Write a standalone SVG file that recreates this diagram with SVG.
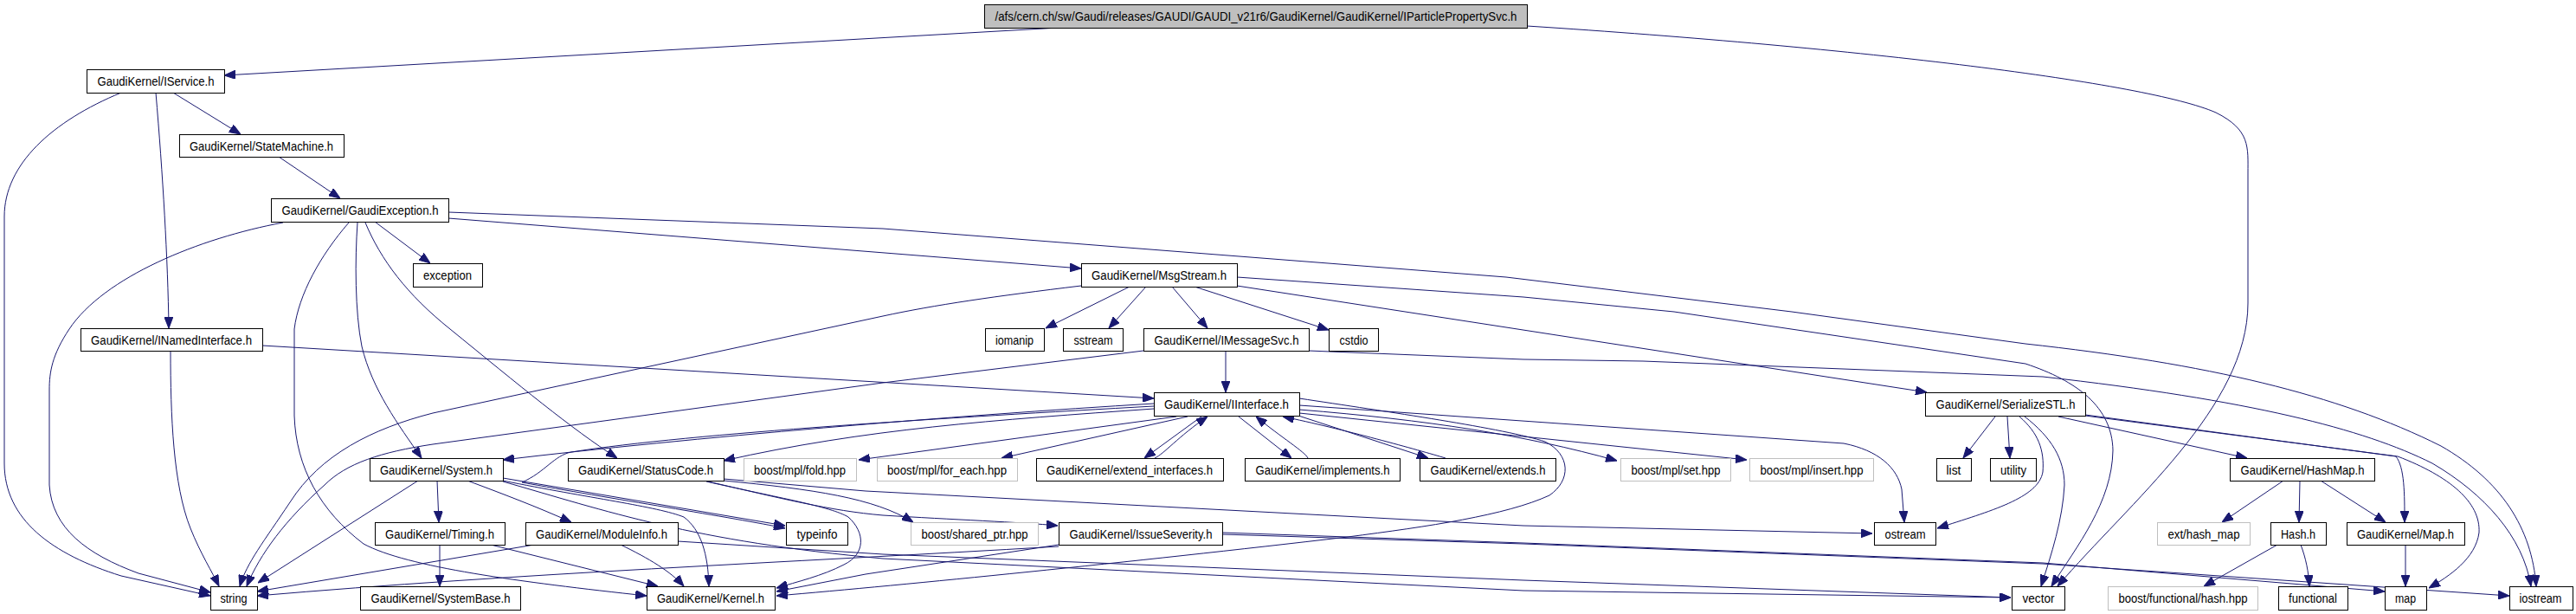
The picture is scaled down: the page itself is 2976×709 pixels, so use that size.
<svg xmlns="http://www.w3.org/2000/svg" width="2976" height="709" viewBox="0 0 2976 709">
<style>
.n rect{fill:#fff;stroke:#000;stroke-width:1}
.g rect{fill:#fff;stroke:#bfbfbf;stroke-width:1}
.r rect{fill:#bfbfbf;stroke:#000;stroke-width:1}
text{font-family:"Liberation Sans",Arial,sans-serif;font-size:14px;fill:#000;text-anchor:middle}
.e path{fill:none;stroke:#191970;stroke-width:1;marker-end:url(#arr)}
</style>
<defs>
<marker id="arr" markerUnits="userSpaceOnUse" markerWidth="13" markerHeight="10" refX="13" refY="5" orient="auto" viewBox="0 0 13 10">
<path d="M0,0 L13,5 L0,10 z" fill="#191970" stroke="#191970" stroke-width="1"/>
</marker>
</defs>
<rect width="2976" height="709" fill="#fff"/>
<g class="e" id="edges">
<path d="M1223,32 L259,87"/>
<path d="M1764,30 C2150,55 2480,95 2560,130 C2600,150 2597,170 2597,200 L2597,350 C2597,470 2460,580 2377,677"/>
<path d="M200,107 L278,155"/>
<path d="M180,107 C188,200 194,300 195,379"/>
<path d="M140,107 C60,140 5,190 5,250 L5,535 C5,600 60,640 140,665 L243,688"/>
<path d="M322,181 L393,229"/>
<path d="M433,256 L497,304"/>
<path d="M327,257 C230,275 120,320 80,380 C60,410 57,430 57,450 L57,560 C60,610 100,640 160,662 L243,684"/>
<path d="M403,257 C370,295 345,340 340,380 L340,480 C342,540 370,590 420,628 C470,655 600,672 747,688"/>
<path d="M413,257 C410,300 410,360 418,400 C430,450 460,490 487,529"/>
<path d="M422,257 C440,300 470,340 520,380 C600,445 660,495 713,529"/>
<path d="M518,252 L1249,310"/>
<path d="M518,245 L1020,264 L1740,320 L2070,360 L2340,397 C2550,420 2700,455 2820,515 C2890,555 2925,610 2930,677"/>
<path d="M1305,331 L1208,379"/>
<path d="M1324,331 L1281,379"/>
<path d="M1354,331 L1395,379"/>
<path d="M1380,331 L1535,381"/>
<path d="M1249,330 C1150,342 1080,352 1020,365 L500,477 C430,495 370,525 335,580 C305,625 285,650 277,677"/>
<path d="M1429,320 L1760,343 L1934,360 L2340,420 C2400,440 2440,470 2441,520 C2440,580 2400,630 2370,677"/>
<path d="M1429,330 L2226,453"/>
<path d="M1416,405 L1416,453"/>
<path d="M1321,405 L1020,442 L500,513 C440,522 400,535 375,560 C330,600 300,640 285,677"/>
<path d="M1512,405 L1760,415 L1898,417 L2360,435 C2600,462 2730,495 2810,535 C2870,570 2915,620 2924,677"/>
<path d="M197,405 C197,480 200,560 220,610 C232,640 245,660 253,677"/>
<path d="M303,399 L1333,460"/>
<path d="M1333,466 C1100,480 800,505 581,531"/>
<path d="M1333,472 C1150,485 1000,495 836,532"/>
<path d="M1333,469 C1100,482 800,500 660,522 C640,526 630,545 603,557 C700,575 850,598 907,610"/>
<path d="M1359,481 L992,531"/>
<path d="M1372,481 L1157,529"/>
<path d="M1388,481 L1322,529"/>
<path d="M1334,529 C1345,524 1360,505 1395,481"/>
<path d="M1431,481 L1492,529"/>
<path d="M1511,529 C1508,522 1480,505 1451,481"/>
<path d="M1497,479 L1650,529"/>
<path d="M1670,529 C1640,520 1550,495 1482,481"/>
<path d="M1501,473 C1650,485 1760,502 1868,532"/>
<path d="M1501,477 L2018,531"/>
<path d="M1501,468 L2130,512 C2170,520 2192,540 2197,565 L2200,603"/>
<path d="M1501,460 C1600,475 1740,495 1785,510 C1815,525 1815,555 1790,572 C1740,595 1650,608 1557,620 C1300,650 1050,675 897,688"/>
<path d="M836,553 L1000,567 L1760,607 L2163,616"/>
<path d="M836,555 C940,565 1010,575 1055,603"/>
<path d="M818,556 C900,575 960,590 1020,595 C1100,600 1180,603 1222,607"/>
<path d="M816,556 C900,575 960,585 980,597 C1000,615 1000,640 975,652 C950,665 920,672 897,679"/>
<path d="M505,555 L507,603"/>
<path d="M540,555 C580,570 620,585 660,603"/>
<path d="M483,555 L298,673"/>
<path d="M581,552 L907,607"/>
<path d="M581,555 C680,575 760,585 790,597 C810,612 818,640 819,677"/>
<path d="M581,556 C700,590 800,625 1020,645 L1760,682 L2323,690"/>
<path d="M508,629 L508,677"/>
<path d="M567,629 L760,677"/>
<path d="M717,629 C750,645 775,660 790,677"/>
<path d="M617,629 L297,683"/>
<path d="M783,625 L1020,640 L1760,670 L2323,690"/>
<path d="M1223,629 L1000,663 L897,683"/>
<path d="M1223,631 C900,650 600,662 297,688"/>
<path d="M1412,615 L1760,627 L2360,650 L2755,683"/>
<path d="M1412,617 L1760,628 L2360,651 L2899,688"/>
<path d="M2305,481 L2268,529"/>
<path d="M2319,481 L2322,529"/>
<path d="M2333,481 C2355,500 2362,520 2360,545 C2355,575 2300,590 2238,610"/>
<path d="M2339,481 C2370,505 2385,530 2385,560 C2383,600 2370,640 2358,677"/>
<path d="M2378,481 L2596,529"/>
<path d="M2409,479 L2768,527 C2778,540 2778,570 2778,603"/>
<path d="M2409,480 L2770,527 C2830,550 2866,580 2864,615 C2860,645 2830,665 2806,679"/>
<path d="M2638,555 L2567,603"/>
<path d="M2657,555 L2656,603"/>
<path d="M2681,555 L2756,603"/>
<path d="M2631,629 L2546,677"/>
<path d="M2658,629 C2664,645 2667,660 2668,677"/>
<path d="M2779,629 L2779,677"/>
</g>
<g class="r" id="root"><rect x="1137.5" y="5.5" width="627" height="27"/><text x="1451" y="24" textLength="603" lengthAdjust="spacingAndGlyphs">/afs/cern.ch/sw/Gaudi/releases/GAUDI/GAUDI_v21r6/GaudiKernel/GaudiKernel/IParticlePropertySvc.h</text></g>
<g class="n" id="IService"><rect x="100.5" y="80.5" width="159" height="27"/><text x="180" y="99" textLength="135" lengthAdjust="spacingAndGlyphs">GaudiKernel/IService.h</text></g>
<g class="n" id="StateMachine"><rect x="207.5" y="155.5" width="190" height="26"/><text x="302" y="174" textLength="166" lengthAdjust="spacingAndGlyphs">GaudiKernel/StateMachine.h</text></g>
<g class="n" id="GaudiException"><rect x="313.5" y="229.5" width="205" height="27"/><text x="416" y="248" textLength="181" lengthAdjust="spacingAndGlyphs">GaudiKernel/GaudiException.h</text></g>
<g class="n" id="exception"><rect x="477.5" y="304.5" width="80" height="27"/><text x="517" y="323" textLength="56" lengthAdjust="spacingAndGlyphs">exception</text></g>
<g class="n" id="MsgStream"><rect x="1249.5" y="304.5" width="180" height="27"/><text x="1339" y="323" textLength="156" lengthAdjust="spacingAndGlyphs">GaudiKernel/MsgStream.h</text></g>
<g class="n" id="INamedInterface"><rect x="93.5" y="379.5" width="210" height="26"/><text x="198" y="398" textLength="186" lengthAdjust="spacingAndGlyphs">GaudiKernel/INamedInterface.h</text></g>
<g class="n" id="iomanip"><rect x="1138.5" y="379.5" width="68" height="26"/><text x="1172" y="398" textLength="44" lengthAdjust="spacingAndGlyphs">iomanip</text></g>
<g class="n" id="sstream"><rect x="1228.5" y="379.5" width="69" height="26"/><text x="1263" y="398" textLength="45" lengthAdjust="spacingAndGlyphs">sstream</text></g>
<g class="n" id="IMessageSvc"><rect x="1321.5" y="379.5" width="191" height="26"/><text x="1417" y="398" textLength="167" lengthAdjust="spacingAndGlyphs">GaudiKernel/IMessageSvc.h</text></g>
<g class="n" id="cstdio"><rect x="1535.5" y="379.5" width="57" height="26"/><text x="1564" y="398" textLength="33" lengthAdjust="spacingAndGlyphs">cstdio</text></g>
<g class="n" id="IInterface"><rect x="1333.5" y="453.5" width="168" height="27"/><text x="1417" y="472" textLength="144" lengthAdjust="spacingAndGlyphs">GaudiKernel/IInterface.h</text></g>
<g class="n" id="SerializeSTL"><rect x="2224.5" y="453.5" width="185" height="27"/><text x="2317" y="472" textLength="161" lengthAdjust="spacingAndGlyphs">GaudiKernel/SerializeSTL.h</text></g>
<g class="n" id="System"><rect x="427.5" y="529.5" width="154" height="26"/><text x="504" y="548" textLength="130" lengthAdjust="spacingAndGlyphs">GaudiKernel/System.h</text></g>
<g class="n" id="StatusCode"><rect x="656.5" y="529.5" width="180" height="26"/><text x="746" y="548" textLength="156" lengthAdjust="spacingAndGlyphs">GaudiKernel/StatusCode.h</text></g>
<g class="g" id="fold"><rect x="859.5" y="529.5" width="130" height="26"/><text x="924" y="548" textLength="106" lengthAdjust="spacingAndGlyphs">boost/mpl/fold.hpp</text></g>
<g class="g" id="for_each"><rect x="1013.5" y="529.5" width="162" height="26"/><text x="1094" y="548" textLength="138" lengthAdjust="spacingAndGlyphs">boost/mpl/for_each.hpp</text></g>
<g class="n" id="extend_interfaces"><rect x="1197.5" y="529.5" width="216" height="26"/><text x="1305" y="548" textLength="192" lengthAdjust="spacingAndGlyphs">GaudiKernel/extend_interfaces.h</text></g>
<g class="n" id="implements"><rect x="1438.5" y="529.5" width="179" height="26"/><text x="1528" y="548" textLength="155" lengthAdjust="spacingAndGlyphs">GaudiKernel/implements.h</text></g>
<g class="n" id="extends"><rect x="1640.5" y="529.5" width="157" height="26"/><text x="1719" y="548" textLength="133" lengthAdjust="spacingAndGlyphs">GaudiKernel/extends.h</text></g>
<g class="g" id="set"><rect x="1872.5" y="529.5" width="127" height="26"/><text x="1936" y="548" textLength="103" lengthAdjust="spacingAndGlyphs">boost/mpl/set.hpp</text></g>
<g class="g" id="insert"><rect x="2021.5" y="529.5" width="143" height="26"/><text x="2093" y="548" textLength="119" lengthAdjust="spacingAndGlyphs">boost/mpl/insert.hpp</text></g>
<g class="n" id="list"><rect x="2237.5" y="529.5" width="40" height="26"/><text x="2257" y="548" textLength="17" lengthAdjust="spacingAndGlyphs">list</text></g>
<g class="n" id="utility"><rect x="2299.5" y="529.5" width="53" height="26"/><text x="2326" y="548" textLength="30" lengthAdjust="spacingAndGlyphs">utility</text></g>
<g class="n" id="HashMap"><rect x="2576.5" y="529.5" width="167" height="26"/><text x="2660" y="548" textLength="143" lengthAdjust="spacingAndGlyphs">GaudiKernel/HashMap.h</text></g>
<g class="n" id="Timing"><rect x="433.5" y="603.5" width="150" height="26"/><text x="508" y="622" textLength="126" lengthAdjust="spacingAndGlyphs">GaudiKernel/Timing.h</text></g>
<g class="n" id="ModuleInfo"><rect x="607.5" y="603.5" width="176" height="26"/><text x="695" y="622" textLength="152" lengthAdjust="spacingAndGlyphs">GaudiKernel/ModuleInfo.h</text></g>
<g class="n" id="typeinfo"><rect x="908.5" y="603.5" width="71" height="26"/><text x="944" y="622" textLength="47" lengthAdjust="spacingAndGlyphs">typeinfo</text></g>
<g class="g" id="shared_ptr"><rect x="1052.5" y="603.5" width="147" height="26"/><text x="1126" y="622" textLength="123" lengthAdjust="spacingAndGlyphs">boost/shared_ptr.hpp</text></g>
<g class="n" id="IssueSeverity"><rect x="1223.5" y="603.5" width="189" height="26"/><text x="1318" y="622" textLength="165" lengthAdjust="spacingAndGlyphs">GaudiKernel/IssueSeverity.h</text></g>
<g class="n" id="ostream"><rect x="2165.5" y="603.5" width="71" height="26"/><text x="2201" y="622" textLength="47" lengthAdjust="spacingAndGlyphs">ostream</text></g>
<g class="g" id="ext_hash_map"><rect x="2492.5" y="603.5" width="107" height="26"/><text x="2546" y="622" textLength="83" lengthAdjust="spacingAndGlyphs">ext/hash_map</text></g>
<g class="n" id="Hash"><rect x="2623.5" y="603.5" width="64" height="26"/><text x="2655" y="622" textLength="40" lengthAdjust="spacingAndGlyphs">Hash.h</text></g>
<g class="n" id="Map"><rect x="2711.5" y="603.5" width="136" height="26"/><text x="2779" y="622" textLength="112" lengthAdjust="spacingAndGlyphs">GaudiKernel/Map.h</text></g>
<g class="n" id="string"><rect x="243.5" y="677.5" width="54" height="27"/><text x="270" y="696" textLength="31" lengthAdjust="spacingAndGlyphs">string</text></g>
<g class="n" id="SystemBase"><rect x="416.5" y="677.5" width="185" height="27"/><text x="509" y="696" textLength="161" lengthAdjust="spacingAndGlyphs">GaudiKernel/SystemBase.h</text></g>
<g class="n" id="Kernel"><rect x="747.5" y="677.5" width="148" height="27"/><text x="821" y="696" textLength="124" lengthAdjust="spacingAndGlyphs">GaudiKernel/Kernel.h</text></g>
<g class="n" id="vector"><rect x="2324.5" y="677.5" width="61" height="27"/><text x="2355" y="696" textLength="37" lengthAdjust="spacingAndGlyphs">vector</text></g>
<g class="g" id="boost_hash"><rect x="2435.5" y="677.5" width="173" height="27"/><text x="2522" y="696" textLength="149" lengthAdjust="spacingAndGlyphs">boost/functional/hash.hpp</text></g>
<g class="n" id="functional"><rect x="2632.5" y="677.5" width="80" height="27"/><text x="2672" y="696" textLength="56" lengthAdjust="spacingAndGlyphs">functional</text></g>
<g class="n" id="map"><rect x="2755.5" y="677.5" width="48" height="27"/><text x="2779" y="696" textLength="24" lengthAdjust="spacingAndGlyphs">map</text></g>
<g class="n" id="iostream"><rect x="2899.5" y="677.5" width="73" height="27"/><text x="2935" y="696" textLength="49" lengthAdjust="spacingAndGlyphs">iostream</text></g>
</svg>
